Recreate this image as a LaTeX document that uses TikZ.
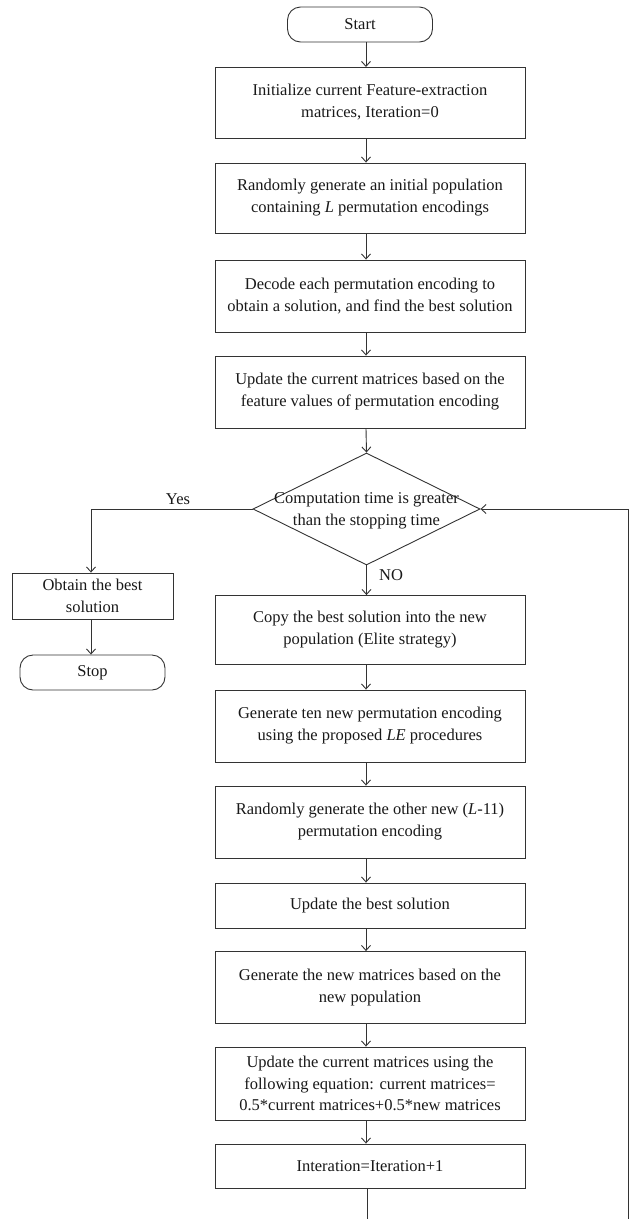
\documentclass[tikz,border=0pt]{standalone}
\usepackage{fontspec}
\setmainfont{Liberation Serif}
\usetikzlibrary{arrows.meta,shapes.geometric}
\begin{document}
\begin{tikzpicture}[x=1pt,y=-1pt,
  every node/.style={font=\fontsize{16.5}{22}\selectfont, text=black!90},
  box/.style={draw=black!80, line width=0.9pt, rectangle, minimum width=310pt, inner sep=0pt, align=center},
  term/.style={draw=black!80, line width=0.9pt, rounded corners=13pt, minimum width=145pt, minimum height=35pt, inner sep=0pt, align=center},
  arr/.style={draw=black!80, line width=0.9pt, -{Straight Barb[length=5pt,width=9pt]}},
  ln/.style={draw=black!80, line width=0.9pt}]
\useasboundingbox (0,0) rectangle (633,1219);
\node[term] (start) at (360,24.5) {Start};
\node[box, minimum height=71pt] (b1) at (370,102.5) {Initialize current Feature-extraction\\matrices, Iteration=0};
\node[box, minimum height=70pt] (b2) at (370,198) {Randomly generate an initial population\\containing \textit{L} permutation encodings};
\node[box, minimum height=72pt] (b3) at (370,296) {Decode each permutation encoding to\\obtain a solution, and find the best solution};
\node[box, minimum height=72pt] (b4) at (370,392) {Update the current matrices based on the\\feature values of permutation encoding};
\node[draw=black!80, line width=0.9pt, diamond, minimum width=227pt, minimum height=112pt, inner sep=0pt] (dec) at (366.5,509) {};
\node[align=center] (dect) at (366.5,511) {Computation time is greater\\than the stopping time};
\node[draw=black!80, line width=0.9pt, rectangle, minimum width=161pt, minimum height=46pt, inner sep=0pt, align=center] (obt) at (92.5,596) {Obtain the best\\solution};
\node[term] (stop) at (92.5,672.5) {Stop};
\node[box, minimum height=69pt] (b5) at (370,630) {Copy the best solution into the new\\population (Elite strategy)};
\node[box, minimum height=72pt] (b6) at (370,726) {Generate ten new permutation encoding\\using the proposed \textit{LE} procedures};
\node[box, minimum height=72pt] (b7) at (370,822) {Randomly generate the other new (\textit{L}-11)\\permutation encoding};
\node[box, minimum height=45pt] (b8) at (370,905.5) {Update the best solution};
\node[box, minimum height=72pt] (b9) at (370,987.5) {Generate the new matrices based on the\\new population};
\node[box, minimum height=73pt, font=\fontsize{16.5}{21.5}\selectfont] (b10) at (370,1083.5) {Update the current matrices using the\\following equation: current matrices=\\0.5*current matrices+0.5*new matrices};
\node[box, minimum height=44pt] (b11) at (370,1166) {Interation=Iteration+1};
\node (yes) at (178,499) {Yes};
\node (no) at (391,575) {NO};
\coordinate (bend) at (91,509);
\coordinate (endA) at (367,1219);
\coordinate (endB) at (628,1219);
\draw[arr] (start.south -| 366,0) -- (366,67);
\draw[arr] (b1.south -| 366,0) -- (b2.north -| 366,0);
\draw[arr] (b2.south -| 366,0) -- (b3.north -| 366,0);
\draw[arr] (b3.south -| 366,0) -- (b4.north -| 366,0);
\draw[arr] (b4.south -| 366,0) -- (dec.north);
\draw[arr] (dec.west) -- (bend) -- (obt.north -| bend);
\draw[arr] (obt.south -| bend) -- (stop.north -| bend);
\draw[arr] (dec.south) -- (b5.north -| dec.south);
\draw[arr] (b5.south -| 366,0) -- (b6.north -| 366,0);
\draw[arr] (b6.south -| 366,0) -- (b7.north -| 366,0);
\draw[arr] (b7.south -| 366,0) -- (b8.north -| 366,0);
\draw[arr] (b8.south -| 366,0) -- (b9.north -| 366,0);
\draw[arr] (b9.south -| 366,0) -- (b10.north -| 366,0);
\draw[arr] (b10.south -| 366,0) -- (b11.north -| 366,0);
\draw[ln] (b11.south -| endA) -- (endA);
\draw[arr] (endB) |- (dec.east);
\end{tikzpicture}
\end{document}
